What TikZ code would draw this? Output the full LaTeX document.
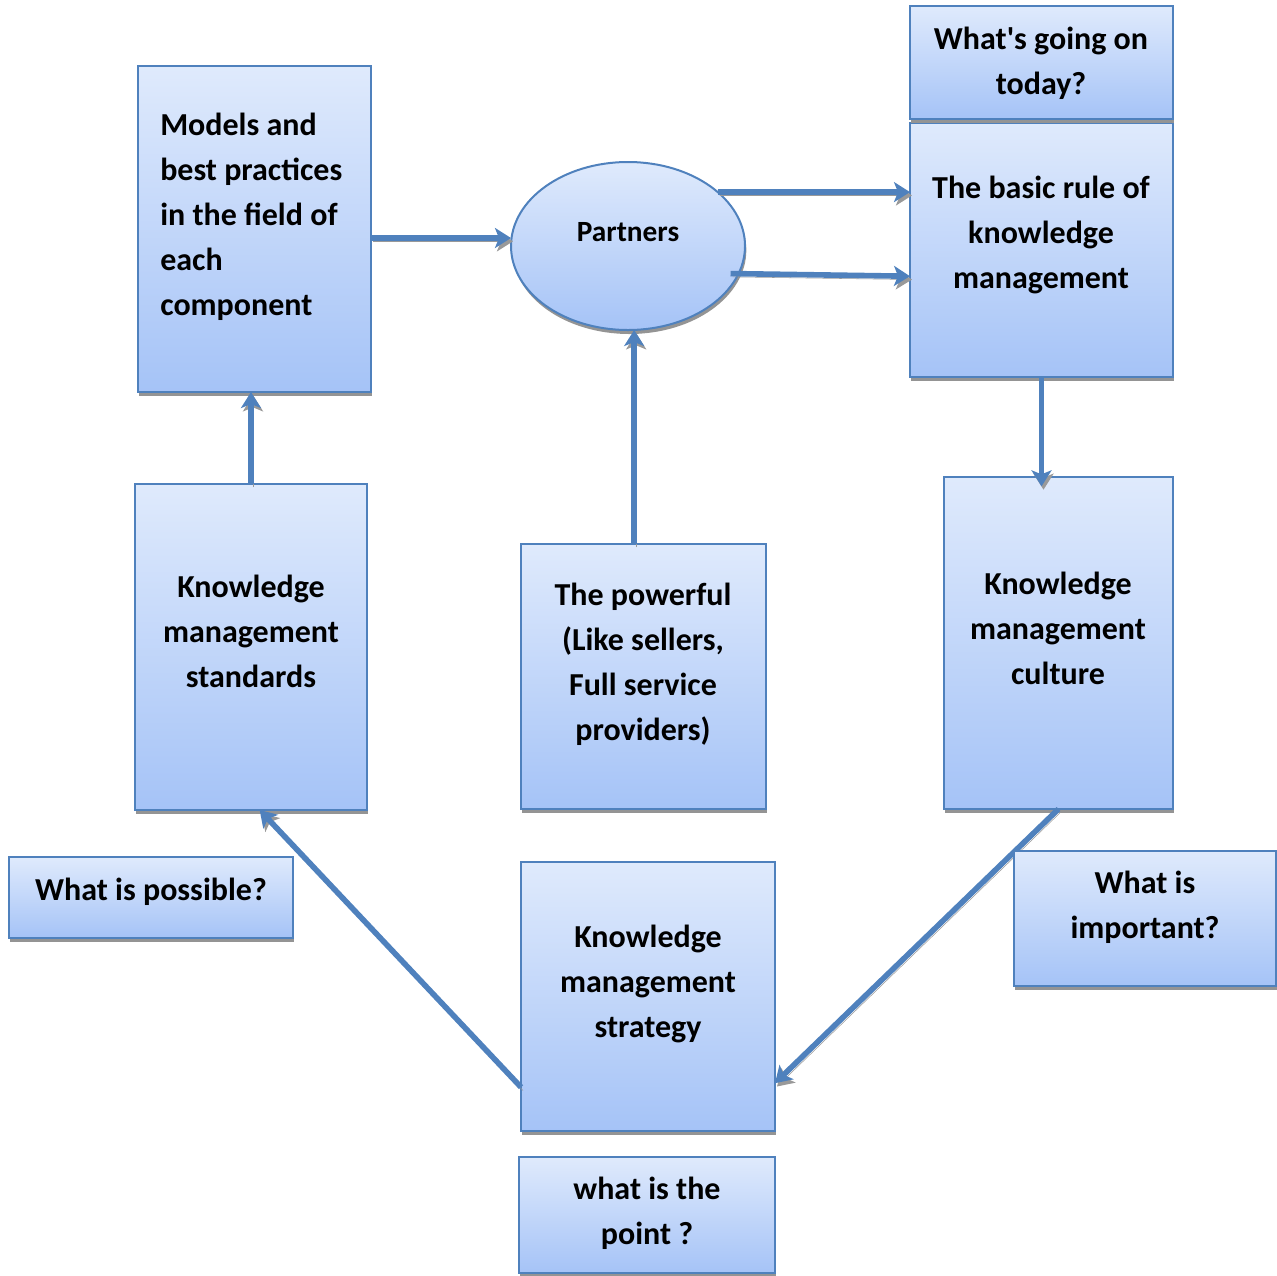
\documentclass[tikz,border=0pt]{standalone}
\usepackage{fontspec}
\setmainfont{Carlito}
\usetikzlibrary{arrows.meta,shapes.geometric,shadows,fit}
\definecolor{edgeblue}{RGB}{79,129,189}
\definecolor{filltop}{RGB}{223,234,252}
\definecolor{fillbot}{RGB}{165,195,247}
\begin{document}
\begin{tikzpicture}[x=0.75pt,y=-0.75pt,
  panel/.style={draw=edgeblue, line width=1.5pt, top color=filltop, bottom color=fillbot,
    inner sep=0pt, outer sep=0pt,
    drop shadow={shadow xshift=1pt, shadow yshift=-3pt, fill=black!42, opacity=1}},
  label/.style={inner sep=0pt, anchor=north, align=center, text=black,
    font=\bfseries\fontsize{24}{33.75}\selectfont},
  link/.style={draw=edgeblue, line width=4.2pt,
    -{Stealth[length=12pt,width=15pt,inset=3pt]},
    preaction={draw=black!40, transform canvas={xshift=1.5pt,yshift=-2.5pt}}}]
\useasboundingbox (0,0) rectangle (1277,1275);

% boxes
\node[panel, fit={(138,66) (371,392)}] (models) {};
\node[panel, fit={(910,123) (1173,377)}] (basic) {};
\node[panel, fit={(910,6) (1173,119)}] (today) {};
\node[panel, ellipse, minimum width=175.5pt, minimum height=126pt] (partners) at (628,246) {};
\node[panel, fit={(135,484) (367,810)}] (standards) {};
\node[panel, fit={(521,544) (766,809)}] (powerful) {};
\node[panel, fit={(944,477) (1173,809)}] (culture) {};
\node[panel, fit={(521,862) (775,1131)}] (strategy) {};
\node[panel, fit={(519,1157) (775,1273)}] (point) {};
\node[panel, fit={(9,857) (293,938)}] (possible) {};

% texts
\node[label, anchor=north west, align=left] (modelstxt) at (160,113)
  {Models and\\best practices\\in the field of\\each\\component};
\node[label] (todaytxt) at (1041,27) {What\textquotesingle s going on\\today?};
\node[label] (basictxt) at (1041,176) {The basic rule of\\knowledge\\management};
\node[label, anchor=center, font=\bfseries\fontsize{22}{30}\selectfont] (partnerstxt) at (628,232) {Partners};
\node[label] (standardstxt) at (251,575) {Knowledge\\management\\standards};
\node[label] (powerfultxt) at (643,583) {The powerful\\(Like sellers,\\Full service\\providers)};
\node[label] (culturetxt) at (1058,572) {Knowledge\\management\\culture};
\node[label] (strategytxt) at (648,925) {Knowledge\\management\\strategy};
\node[label] (pointtxt) at (647,1177) {what is the\\point ?};
\node[label] (possibletxt) at (151,878) {What is possible?};

% connectors
\coordinate (m1) at ([yshift=-6.75pt]models.east);
\draw[link] (m1) -- (m1 -| partners.west);
\draw[link] (partners.31) -- (partners.31 -| basic.west);
\coordinate (e1) at ([xshift=-6pt]partners.-14);
\draw[link] (e1) -- ([yshift=-2pt]e1 -| basic.west);
\draw[link] (basic.south) -- ([yshift=-7pt]basic.south |- culture.north);
\draw[link] (standards.north) -- (standards.north |- models.south);
\coordinate (p1) at ([xshift=-7pt]powerful.north);
\draw[link] (p1) -- (p1 |- partners.south);
\coordinate (s1) at ([yshift=-68pt]strategy.west);
\coordinate (s2) at ([xshift=6.5pt]standards.south);
\draw[link] (s1) -- (s2);
\coordinate (c1) at (culture.south);
\coordinate (s3) at ([yshift=-65pt]strategy.east);
\draw[link] (c1) -- (s3);

% box that sits over the lower right connector
\node[panel, fit={(1014,851) (1276,986)}] (important) {};
\node[label] (importanttxt) at (1145,871) {What is\\important?};
\end{tikzpicture}
\end{document}
